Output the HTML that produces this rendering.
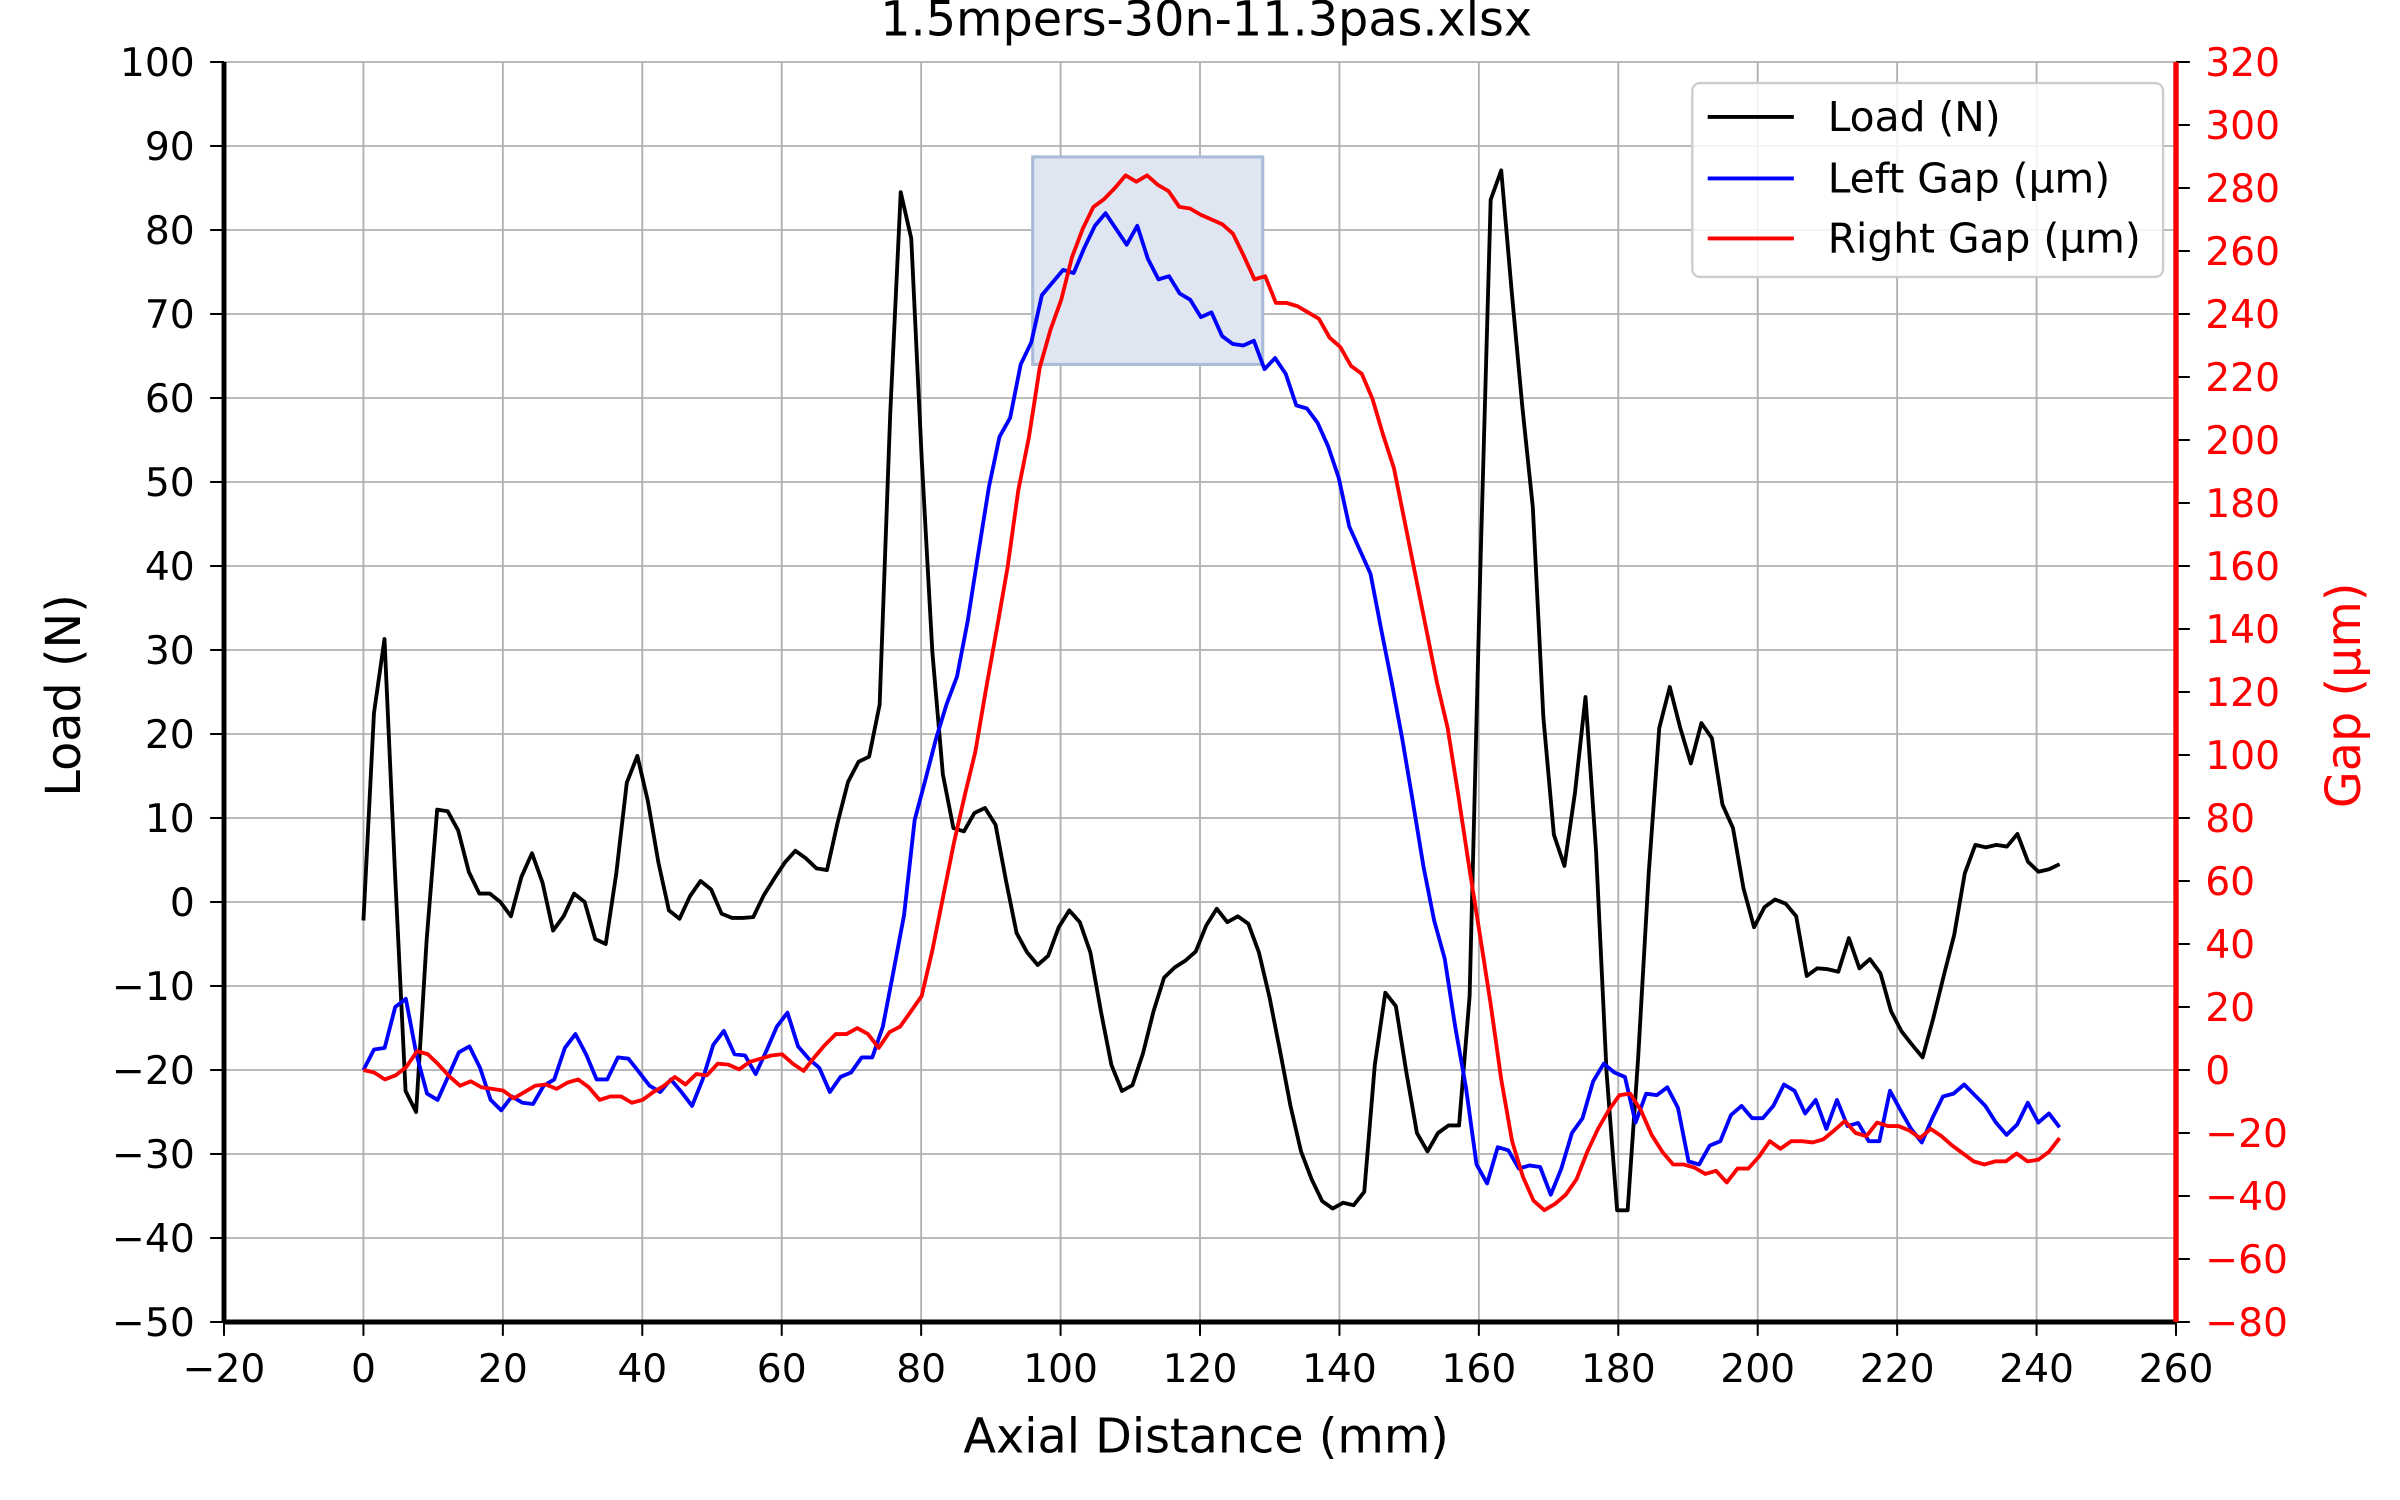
<!DOCTYPE html>
<html><head><meta charset="utf-8"><style>
html,body{margin:0;padding:0;background:#fff;}
svg{display:block;font-family:"DejaVu Sans","Liberation Sans",sans-serif;}
</style></head><body>
<svg id="chart" width="2400" height="1500" viewBox="0 0 1560 975" xmlns="http://www.w3.org/2000/svg">
<rect width="1560" height="975" fill="#fff"/>
<g id="grid"></g>
<rect id="hl" fill="#dfe6f1" stroke="#a9bbd6" stroke-width="2"/>
<g id="series"></g>
<g id="axes"></g>
<text x="784" y="23" font-size="31" text-anchor="middle">1.5mpers-30n-11.3pas.xlsx</text>
<text x="784" y="944" font-size="31" text-anchor="middle">Axial Distance (mm)</text>
<text x="0" y="0" font-size="31" text-anchor="middle" transform="translate(52,452) rotate(-90)">Load (N)</text>
<text x="0" y="0" font-size="31" fill="#ff0000" text-anchor="middle" transform="translate(1534,452) rotate(-90)">Gap (µm)</text>
<g>
<rect x="1100" y="54" width="306" height="126" rx="5" fill="#fff" fill-opacity="0.85" stroke="#cccccc" stroke-width="1.5"/>
<line x1="1110" y1="76" x2="1166" y2="76" stroke="#000" stroke-width="2.5"/>
<text x="1188" y="85" font-size="26.5">Load (N)</text>
<line x1="1110" y1="116" x2="1166" y2="116" stroke="#0000ff" stroke-width="2.5"/>
<text x="1188" y="125" font-size="26.5">Left Gap (µm)</text>
<line x1="1110" y1="155" x2="1166" y2="155" stroke="#ff0000" stroke-width="2.5"/>
<text x="1188" y="164" font-size="26.5">Right Gap (µm)</text>
</g>
</svg>
<script>
const xTicks=[-20,0,20,40,60,80,100,120,140,160,180,200,220,240,260];
const loadTicks=[-50,-40,-30,-20,-10,0,10,20,30,40,50,60,70,80,90,100];
const gapTicks=[-80,-60,-40,-20,0,20,40,60,80,100,120,140,160,180,200,220,240,260,280,300,320];
const xEnd=243.3;
const highlightX=[96,129];
const highlightLoad=[64,88.7];
const loadValues=[-2.2,22.5,31.3,3.4,-22.5,-25,-4.5,11,10.8,8.5,3.6,1,1,0,-1.7,3,5.8,2.3,-3.4,-1.7,1,0,-4.4,-5,3.4,14.2,17.4,12,4.7,-1,-2,0.7,2.5,1.5,-1.4,-1.9,-1.9,-1.8,0.8,2.8,4.7,6.1,5.2,4,3.8,9.4,14.3,16.7,17.3,23.5,58,84.5,79,52.6,29.8,15.2,8.8,8.4,10.6,11.2,9.2,2.5,-3.7,-6,-7.5,-6.4,-3,-1,-2.4,-6,-13,-19.4,-22.5,-21.8,-18,-13,-9,-7.8,-7,-5.9,-2.8,-0.8,-2.4,-1.7,-2.6,-6,-11.3,-17.7,-24.3,-29.7,-33,-35.6,-36.5,-35.8,-36.1,-34.5,-19.4,-10.8,-12.4,-20.3,-27.5,-29.7,-27.5,-26.6,-26.6,-11.2,38.9,83.6,87.1,72.6,59,47,22,8,4.3,13,24.4,6.1,-20.3,-36.7,-36.7,-18.5,3.4,20.7,25.6,20.7,16.5,21.3,19.5,11.6,8.8,1.6,-3,-0.6,0.3,-0.2,-1.7,-8.8,-7.9,-8,-8.3,-4.3,-7.9,-6.8,-8.5,-13,-15.4,-17,-18.5,-13.9,-8.8,-3.9,3.4,6.8,6.5,6.8,6.6,8.1,4.8,3.6,3.9,4.5];
const leftGapValues=[0,6.5,7,20,22.6,5,-7.5,-9.5,-2,5.6,7.5,0.7,-9.5,-12.8,-8.4,-10.4,-10.8,-5,-3,7,11.4,5,-3,-3,4,3.6,-0.7,-5,-7,-3,-7,-11.4,-3,8,12.4,5,4.6,-1.3,6,13.8,18.2,7.5,3.6,0.7,-7,-2.2,-0.8,4,4,13.8,31.3,49.2,79.4,92,105,116,125,142.5,164,185,201,207,224,231,246,250,254,253,261,268,272,267,262,268,257.5,251,252,246.5,244.5,239,240.5,233,230.5,230,231.5,222.5,226,221,211,210,205.5,198,188,172.5,165,157.5,140,123,105,85,64.5,47.5,35.3,13.5,-5.5,-30,-36,-24.5,-25.5,-31.3,-30.3,-30.8,-39.6,-31.3,-20,-15.3,-3.6,2,-0.8,-2.2,-16.7,-7.5,-8,-5.5,-12,-29,-30,-24,-22.6,-14.3,-11.4,-15.3,-15.3,-11.4,-4.6,-6.6,-13.8,-9.5,-18.7,-9.5,-17.8,-16.8,-22.6,-22.6,-6.6,-12.8,-18.7,-23,-15.3,-8.4,-7.5,-4.6,-8,-11.4,-16.7,-20.6,-17.3,-10.4,-16.7,-13.8,-18.2];
const rightGapValues=[0,-0.8,-3,-1.7,1,6,5,1.7,-2,-5,-3.6,-5.5,-6,-6.5,-9,-7,-5,-4.6,-6,-4,-3,-5.5,-9.5,-8.4,-8.4,-10.4,-9.5,-7,-5,-2.2,-4.6,-1.3,-1.7,2,1.7,0.2,2.6,3.6,4.6,5,2,-0.3,4,8,11.4,11.4,13.3,11.4,7,12,13.8,18.6,23.5,38,55,72,87,101,121,140,159.5,184,201,223,235,244.5,258,267,274,276.5,280,284,282,284,281,279,274,273.5,271.5,270,268.5,265.5,258.5,251,252,243.5,243.5,242.5,240.5,238.5,232.5,229.5,223.5,221,213,201.5,191,174,157,140,123,108.5,87,64.5,43,21,-3.2,-22.6,-33.8,-41.5,-44.5,-42.5,-39.6,-34.7,-26,-18.7,-12.8,-8,-7.5,-12.8,-20.6,-26,-30,-30,-31,-33,-32,-35.7,-31.3,-31.3,-27.5,-22.6,-25,-22.6,-22.6,-23,-22,-19.2,-16.2,-20,-21,-16.7,-17.8,-17.8,-19.2,-21.6,-18.7,-21,-24,-26.5,-29,-30,-29,-29,-26.5,-29,-28.5,-26,-21.6];

const PL=145.6,PR=1414.4,PT=40.3,PB=859.3;
const xs=v=>PL+(v+20)/280*(PR-PL);
const yL=v=>PB-(v+50)/150*(PB-PT);
const yR=v=>PB-(v+80)/400*(PB-PT);
const NS="http://www.w3.org/2000/svg";
function mk(tag,parent,attrs){const e=document.createElementNS(NS,tag);for(const k in attrs)e.setAttribute(k,attrs[k]);parent.appendChild(e);return e;}
const grid=document.getElementById('grid'),axes=document.getElementById('axes'),series=document.getElementById('series');

xTicks.forEach(t=>{
  const g=mk('line',grid,{x1:xs(t),x2:xs(t),y1:PT,y2:PB,stroke:'#b0b0b0','stroke-width':1.2});
  
  
  const tk=mk('line',axes,{x1:xs(t),x2:xs(t),y1:PB,y2:PB+9,stroke:'#000','stroke-width':1.3});
  
  
  const tx=mk('text',axes,{x:xs(t),y:PB+39,'font-size':25.5,'text-anchor':'middle'});
  tx.textContent=String(t).replace('-','\u2212');
  
  
});
loadTicks.forEach(t=>{
  const g=mk('line',grid,{x1:PL,x2:PR,y1:yL(t),y2:yL(t),stroke:'#b0b0b0','stroke-width':1.2});
  
  
  const tk=mk('line',axes,{x1:PL-9,x2:PL,y1:yL(t),y2:yL(t),stroke:'#000','stroke-width':1.3});
  
  
  const tx=mk('text',axes,{x:PL-19,y:yL(t)+9,'font-size':25.5,'text-anchor':'end'});
  tx.textContent=String(t).replace('-','\u2212');
  
  
});
gapTicks.forEach(t=>{
  const tk=mk('line',axes,{x1:PR,x2:PR+9,y1:yR(t),y2:yR(t),stroke:'#000','stroke-width':1.3});
  
  
  const tx=mk('text',axes,{x:PR+19,y:yR(t)+9,'font-size':25.5,fill:'#ff0000','text-anchor':'start'});
  tx.textContent=String(t).replace('-','\u2212');
  
  
});
let sp=mk('line',axes,{x1:PL,x2:PL,y1:PT,y2:PB,stroke:'#000','stroke-width':3.2});


sp=mk('line',axes,{x1:PL,x2:PR,y1:PB,y2:PB,stroke:'#000','stroke-width':3.2});


sp=mk('line',axes,{x1:PR,x2:PR,y1:PT,y2:PB,stroke:'#ff0000','stroke-width':3.5});



const hl=document.getElementById('hl');
hl.setAttribute('x',xs(highlightX[0]));hl.setAttribute('width',xs(highlightX[1])-xs(highlightX[0]));
hl.setAttribute('y',yL(highlightLoad[1]));hl.setAttribute('height',yL(highlightLoad[0])-yL(highlightLoad[1]));

function drawLine(vals,yf,color,name){
  const n=vals.length;
  const pts=vals.map((v,i)=>xs(i*xEnd/(n-1)).toFixed(2)+','+yf(v).toFixed(2)).join(' ');
  const p=mk('polyline',series,{points:pts,fill:'none',stroke:color,'stroke-width':2.5,'stroke-linejoin':'round'});
  
  
}
drawLine(loadValues,yL,'#000000','load-line');
drawLine(leftGapValues,yR,'#0000ff','left-gap-line');
drawLine(rightGapValues,yR,'#ff0000','right-gap-line');
</script>
</body></html>
